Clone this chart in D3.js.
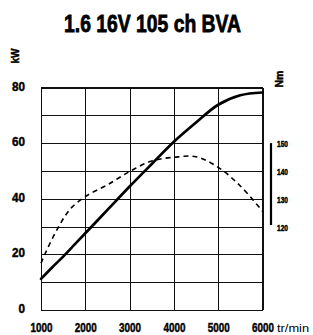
<!DOCTYPE html>
<html>
<head>
<meta charset="utf-8">
<script src="https://cdn.jsdelivr.net/npm/d3@7"></script>
<style>
  body { margin: 0; background: #fff; }
  svg text { font-family: "Liberation Sans", Arial, sans-serif; fill: #000; }
  .heavy { stroke: #000; stroke-width: 0.45; }
</style>
</head>
<body>
<div class="chart"></div>
<script>
// data
var title = "1.6 16V 105 ch BVA";
var powerRpm = [1000, 1250, 1500, 1750, 2000, 2500, 3000, 3500, 4000, 4500, 5000, 5500, 6000];
var powerKw = [11.2, 15.3, 19.2, 23.4, 27.6, 36, 44.4, 52.5, 60.5, 67.4, 73.8, 77.2, 78.2];
var torqueRpm = [1000, 1100, 1250, 1400, 1550, 1700, 2000, 2500, 3000, 3500, 4000, 4500, 5000, 5500, 6000];
var torqueNm = [106.8, 110.5, 115.5, 120, 124, 127, 130.8, 135, 139.8, 143.6, 144.9, 145.1, 141.3, 134.6, 125.5];
var xTicks = [1000, 2000, 3000, 4000, 5000, 6000];
var kwTicks = [0, 20, 40, 60, 80];
var kwGrid = [0, 10, 20, 30, 40, 50, 60, 70, 80];
var nmTicks = [120, 130, 140, 150];

var svgWidth = 313;
var svgHeight = 335;
var margin = { top: 87.5, right: 50.5, bottom: 25, left: 41 };
var width = svgWidth - margin.left - margin.right;
var height = svgHeight - margin.top - margin.bottom;

var svg = d3.select(".chart")
  .append("svg")
  .attr("width", svgWidth)
  .attr("height", svgHeight);

var chartGroup = svg.append("g")
  .attr("transform", `translate(${margin.left}, ${margin.top})`);

var x = d3.scaleLinear().domain([1000, 6000]).range([0, width]);
var yKw = d3.scaleLinear().domain([0, 80]).range([height, 0]);
// torque axis shares the pixels: 150 Nm sits on 60 kW
var yNm = d3.scaleLinear().domain([90, 170]).range([height, 0]);

// vertical grid lines + x labels
var xAxis = chartGroup.append("g")
  .attr("transform", `translate(0, ${height})`)
  .call(d3.axisBottom(x).tickValues(xTicks).tickSize(-height).tickPadding(13).tickFormat(d3.format("d")));
xAxis.select(".domain").remove();
xAxis.selectAll("line").attr("stroke", "#111").attr("stroke-width", 1).attr("shape-rendering", "crispEdges");
// condensed look: squeeze the labels around their tick
xAxis.selectAll("text")
  .attr("class", "heavy")
  .attr("font-size", 13)
  .attr("font-weight", "bold")
  .attr("transform", "scale(0.76, 1)");

// horizontal grid lines
var yGrid = chartGroup.append("g")
  .call(d3.axisLeft(yKw).tickValues(kwGrid).tickSize(-width).tickFormat(""));
yGrid.select(".domain").remove();
yGrid.selectAll("line").attr("stroke", "#111").attr("stroke-width", 1).attr("shape-rendering", "crispEdges");

// left labels
var yAxis = chartGroup.append("g")
  .call(d3.axisLeft(yKw).tickValues(kwTicks).tickSize(0).tickPadding(16));
yAxis.select(".domain").remove();
yAxis.selectAll("text")
  .attr("class", "heavy")
  .attr("dy", "0.2em")
  .attr("font-size", 13)
  .attr("font-weight", "bold")
  .attr("textLength", d => String(d).length * 6.5)
  .attr("lengthAdjust", "spacingAndGlyphs");

// frame
chartGroup.append("rect")
  .attr("width", width)
  .attr("height", height)
  .attr("fill", "none")
  .attr("stroke", "#111")
  .attr("stroke-width", 1)
  .attr("shape-rendering", "crispEdges");

// right torque axis
var nmGroup = chartGroup.append("g")
  .attr("transform", `translate(${width + 8.5}, 0)`);
nmGroup.append("line")
  .attr("y1", yNm(d3.max(nmTicks)))
  .attr("y2", yNm(d3.min(nmTicks)) - 1.5)
  .attr("stroke", "#000")
  .attr("stroke-width", 2.2);
var nmAxis = nmGroup.append("g")
  .attr("transform", "translate(-2, 0)")
  .call(d3.axisRight(yNm).tickValues(nmTicks).tickSize(0).tickPadding(8));
nmAxis.select(".domain").remove();
nmAxis.selectAll("text")
  .attr("class", "heavy")
  .attr("dy", "0.45em")
  .attr("font-size", 8.5)
  .attr("font-weight", "bold")
  .attr("textLength", 11)
  .attr("lengthAdjust", "spacingAndGlyphs");

// curves
var powerLine = d3.line()
  .x((d, i) => x(powerRpm[i]))
  .y(d => yKw(d))
  .curve(d3.curveCatmullRom.alpha(0.5));

var torqueLine = d3.line()
  .x((d, i) => x(torqueRpm[i]))
  .y(d => yNm(d))
  .curve(d3.curveCatmullRom.alpha(0.5));

chartGroup.append("path")
  .datum(torqueNm)
  .attr("d", torqueLine)
  .attr("fill", "none")
  .attr("stroke", "#000")
  .attr("stroke-width", 1.6)
  .attr("stroke-dasharray", "5,4");

chartGroup.append("path")
  .datum(powerKw)
  .attr("d", powerLine)
  .attr("fill", "none")
  .attr("stroke", "#000")
  .attr("stroke-width", 2.7)
  .attr("stroke-linecap", "round");

// title and unit labels
svg.append("text")
  .attr("x", 152.5)
  .attr("y", 31.5)
  .attr("text-anchor", "middle")
  .attr("font-size", 24)
  .attr("font-weight", "bold")
  .attr("stroke", "#000")
  .attr("stroke-width", 0.8)
  .attr("textLength", 177)
  .attr("lengthAdjust", "spacingAndGlyphs")
  .text(title);

svg.append("text")
  .attr("class", "heavy")
  .attr("transform", "translate(19, 56) rotate(-90)")
  .attr("text-anchor", "middle")
  .attr("font-size", 11.5)
  .attr("font-weight", "bold")
  .attr("textLength", 15)
  .attr("lengthAdjust", "spacingAndGlyphs")
  .text("kW");

svg.append("text")
  .attr("class", "heavy")
  .attr("transform", "translate(282.5, 79) rotate(-90)")
  .attr("text-anchor", "middle")
  .attr("font-size", 11.5)
  .attr("font-weight", "bold")
  .attr("textLength", 17)
  .attr("lengthAdjust", "spacingAndGlyphs")
  .text("Nm");

svg.append("text")
  .attr("x", margin.left + width + 14.5)
  .attr("y", 332)
  .attr("font-size", 11.5)
  .attr("textLength", 32)
  .attr("lengthAdjust", "spacingAndGlyphs")
  .text("tr/min");
</script>
</body>
</html>
